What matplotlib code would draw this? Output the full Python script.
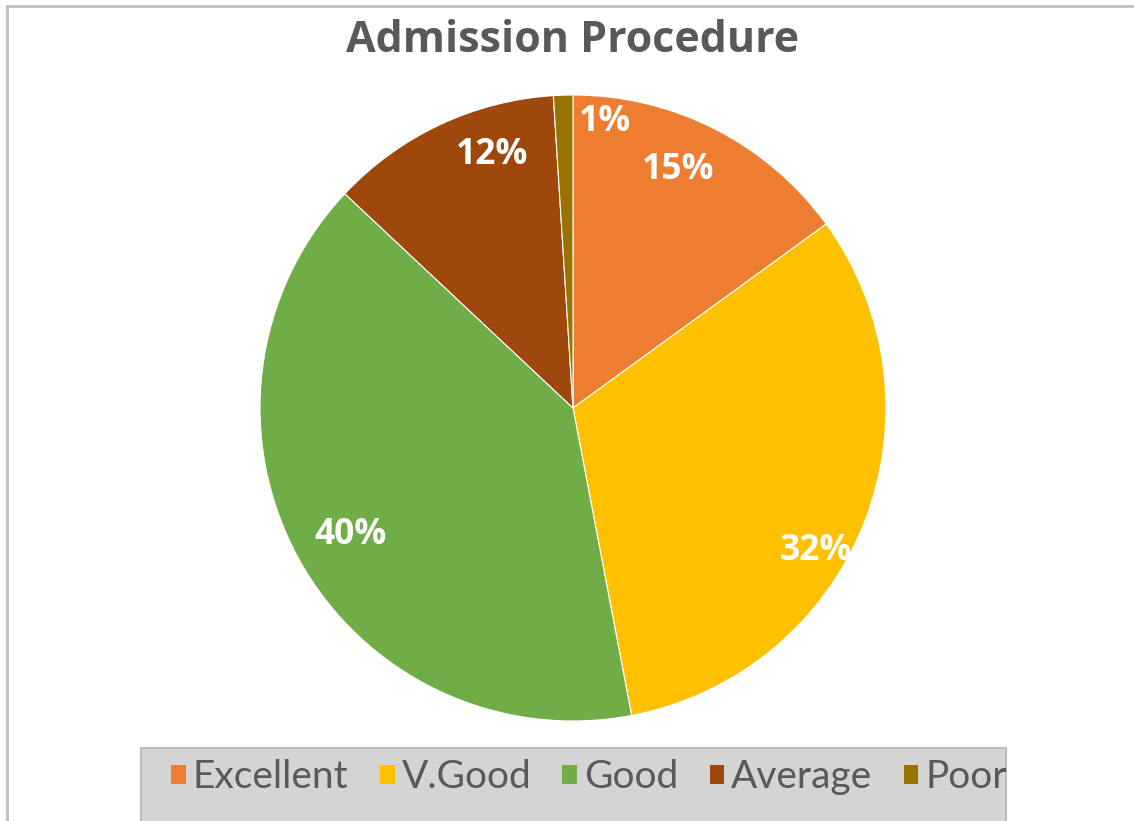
import numpy as np
import matplotlib.pyplot as plt
from matplotlib.patches import Rectangle
from matplotlib.lines import Line2D

# data
categories = ['Excellent', 'V.Good', 'Good', 'Average', 'Poor']
shares = [15, 32, 40, 12, 1]
colors = ['#ED7D31', '#FFC000', '#70AD47', '#9E480E', '#997300']

# label placement tweaks (deg offset from wedge middle, radius fraction)
lab_offset = [3.2, -8.8, 0.9, -7.5, -8.2]
lab_radius = [0.83, 0.90, 0.82, 0.85, 0.92]

W, H = 1134, 821
fig = plt.figure(figsize=(W / 100, H / 100), dpi=100)

def px_box(x0, y0, w, h):
    # pixel box from the top-left -> figure fraction
    return [x0 / W, 1 - (y0 + h) / H, w / W, h / H]

ax = fig.add_axes(px_box(260, 95, 626, 626))
wedges, _ = ax.pie(shares, colors=colors, startangle=90, counterclock=False,
                   radius=1.0, wedgeprops=dict(edgecolor='white', linewidth=0.8))
ax.set_xlim(-1, 1)
ax.set_ylim(-1, 1)
ax.set_aspect('equal')
ax.axis('off')

for w, v, off, r in zip(wedges, shares, lab_offset, lab_radius):
    mid = np.deg2rad((w.theta1 + w.theta2) / 2 + off)
    ax.text(r * np.cos(mid), r * np.sin(mid), f'{v}%', ha='center', va='center',
            color='white', fontsize=25.5, fontweight='bold', family='Open Sans')

fig.text(573 / W, 1 - 41 / H, 'Admission Procedure', ha='center', va='center',
         fontsize=31, fontweight='bold', color='#595959', family='Open Sans')

# legend background, runs off the bottom edge
fig.patches.append(Rectangle((141 / W, -0.05), 865 / W, 0.05 + 73 / H,
                             transform=fig.transFigure, facecolor='#d4d4d4',
                             edgecolor='#bcbcbc', linewidth=1.5))
leg = fig.legend(wedges, categories, loc='center', ncol=5,
                 bbox_to_anchor=(589 / W, 1 - 777 / H), frameon=False,
                 prop=dict(family='Lato', size=28), labelcolor='#595959',
                 handlelength=0.38, handleheight=0.38, handletextpad=0.18,
                 columnspacing=0.8, borderpad=0)
for h in leg.legend_handles:
    h.set_edgecolor('none')

# outer border (only top and left survive in the crop)
fig.add_artist(Line2D([6.5 / W, 1], [1 - 6.5 / H, 1 - 6.5 / H],
                      transform=fig.transFigure, color='#bfbfbf', lw=2))
fig.add_artist(Line2D([6.5 / W, 6.5 / W], [0, 1 - 6.5 / H],
                      transform=fig.transFigure, color='#bfbfbf', lw=2))

fig.savefig('out.png', dpi=100, facecolor='white')
